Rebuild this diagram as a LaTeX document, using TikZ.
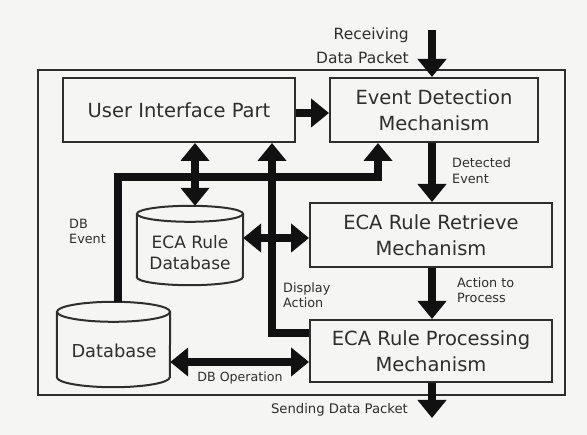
\documentclass[tikz,border=0pt]{standalone}
\usepackage{fontspec}
\setmainfont{DejaVu Sans}
\usepackage{xcolor}
\usetikzlibrary{arrows.meta,calc}

\definecolor{paper}{HTML}{F5F5F3}
\definecolor{ink}{HTML}{111111}
\definecolor{pen}{HTML}{2E2E2E}

% drum outline round a named node: name, x radius, y radius
\newcommand{\dbdrum}[3]{%
  \draw[boxline] ($(#1.north west)+(0,#3)$) -- ($(#1.south west)+(0,-#3)$)
    arc[start angle=180,end angle=0,x radius=#2,y radius=#3]
    -- ($(#1.north east)+(0,#3)$);
  \draw[boxline] ($(#1.north)+(0,#3)$) ellipse[x radius=#2,y radius=#3];
}

\begin{document}
\begin{tikzpicture}[x=1pt,y=-1pt,
  boxline/.style={draw=pen,line width=2pt},
  mech/.style={boxline,align=center,font=\fontsize{19.5}{26}\selectfont,text=pen,inner sep=0pt},
  drum/.style={inner sep=0pt},
  drumtext/.style={align=center,font=\fontsize{17}{21}\selectfont,text=pen,inner sep=0pt},
  note/.style={align=left,font=\fontsize{12.8}{15.5}\selectfont,text=pen,inner sep=0pt},
  flow/.style={draw=ink,line width=8.5pt,-{Triangle[width=28pt,length=18pt]}},
  both/.style={draw=ink,line width=8.5pt,{Triangle[width=28pt,length=18pt]}-{Triangle[width=28pt,length=18pt]}},
]
\fill[paper] (0,0) rectangle (587,435);
\draw[boxline] (38,70) rectangle (565,395);

% boxes
\node[mech,minimum width=232,minimum height=64] (ui) at (179,110) {User Interface Part};
\node[mech,minimum width=208,minimum height=64] (edm) at (434,110) {Event Detection\\Mechanism};
\node[mech,minimum width=242,minimum height=64] (retr) at (431,235) {ECA Rule Retrieve\\Mechanism};
\node[mech,minimum width=242,minimum height=62] (proc) at (431,351) {ECA Rule Processing\\Mechanism};

% drums
\node[drum,minimum width=106,minimum height=79] (ecadb) at (190,245.5) {};
\dbdrum{ecadb}{53}{8}
\node[drumtext] (ecadbtext) at (190,253) {ECA Rule\\Database};
\node[drum,minimum width=113,minimum height=85] (db) at (113.5,344.5) {};
\dbdrum{db}{56.5}{10}
\node[drumtext,font=\fontsize{17.8}{21}\selectfont] (dbtext) at (114,351) {Database};

% turning points
\coordinate (main) at (432,30);
\coordinate (send) at (432,418);
\coordinate (bus) at (118,177);
\coordinate (busup) at (378,177);
\coordinate (uidb) at (195,0);
\coordinate (disp) at (272,333);
\coordinate (rr) at (0,238);
\coordinate (dbop) at (0,362);

% connectors
\draw[flow] (main) -- (main |- edm.north);
\draw[flow] (edm.south -| main) -- (retr.north -| main);
\draw[flow] (retr.south -| main) -- (proc.north -| main);
\draw[flow] (proc.south -| main) -- (send);
\draw[flow] ([yshift=-3pt]ui.east) -- ([yshift=-3pt]edm.west);
\draw[flow] (db.north -| bus) |- (busup) -- (busup |- edm.south);
\draw[both] (ui.south -| uidb) -- (ecadb.north -| uidb);
\draw[flow] (proc.west |- disp) -| (disp |- ui.south);
\draw[both] (ecadb.east |- rr) -- (retr.west |- rr);
\draw[both] (db.east |- dbop) -- (proc.west |- dbop);

% labels
\node[note,align=right,anchor=east,font=\fontsize{15.5}{24}\selectfont] (recvlbl) at (409,45.5) {Receiving\\Data Packet};
\node[note,anchor=west] (detlbl) at (452,170.5) {Detected\\Event};
\node[note,anchor=west] (actlbl) at (457,290) {Action to\\Process};
\node[note,anchor=west] (displbl) at (283,295) {Display\\Action};
\node[note,anchor=west] (evlbl) at (69,231.5) {DB\\Event};
\node[note,font=\fontsize{12.6}{15}\selectfont] (oplbl) at (240,378) {DB Operation};
\node[note,anchor=east,font=\fontsize{13.2}{15}\selectfont] (sendlbl) at (408,410) {Sending Data Packet};
\end{tikzpicture}
\end{document}
